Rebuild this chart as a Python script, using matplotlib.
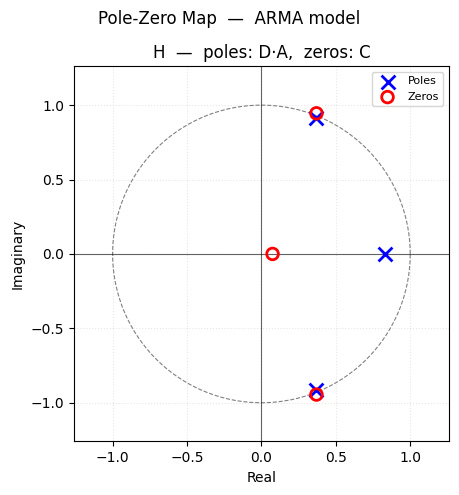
import numpy as np
import matplotlib
matplotlib.use("Agg")
import matplotlib.pyplot as plt

poles_re = [0.83, 0.37, 0.37]
poles_im = [0.0, 0.915, -0.915]
zeros_re = [0.075, 0.37, 0.37]
zeros_im = [0.0, 0.945, -0.945]

fig = plt.figure(figsize=(4.59, 4.95), dpi=100)
ax = fig.add_axes([0.161, 0.108, 0.817, 0.758])
t = np.linspace(0, 2*np.pi, 400)
ax.plot(np.cos(t), np.sin(t), ls='--', color='gray', lw=0.8)
ax.axhline(0, color='black', lw=0.8, alpha=0.6)
ax.axvline(0, color='black', lw=0.8, alpha=0.6)
ax.scatter(poles_re, poles_im, marker='x', s=100, color='blue', linewidths=2, label='Poles', zorder=3)
ax.scatter(zeros_re, zeros_im, marker='o', s=70, facecolors='none', edgecolors='red', linewidths=2, label='Zeros', zorder=3)
ax.set_xlim(-1.26, 1.26)
ax.set_ylim(-1.26, 1.26)
ax.set_aspect('equal')
ax.grid(True, ls=':', alpha=0.3)
ax.set_xlabel('Real')
ax.set_ylabel('Imaginary')
ax.set_title('H  —  poles: D·A,  zeros: C')
ax.legend(fontsize=8, loc='upper right')
fig.suptitle('Pole-Zero Map  —  ARMA model', x=0.5, y=0.98)
fig.savefig('out.png', dpi=100)
